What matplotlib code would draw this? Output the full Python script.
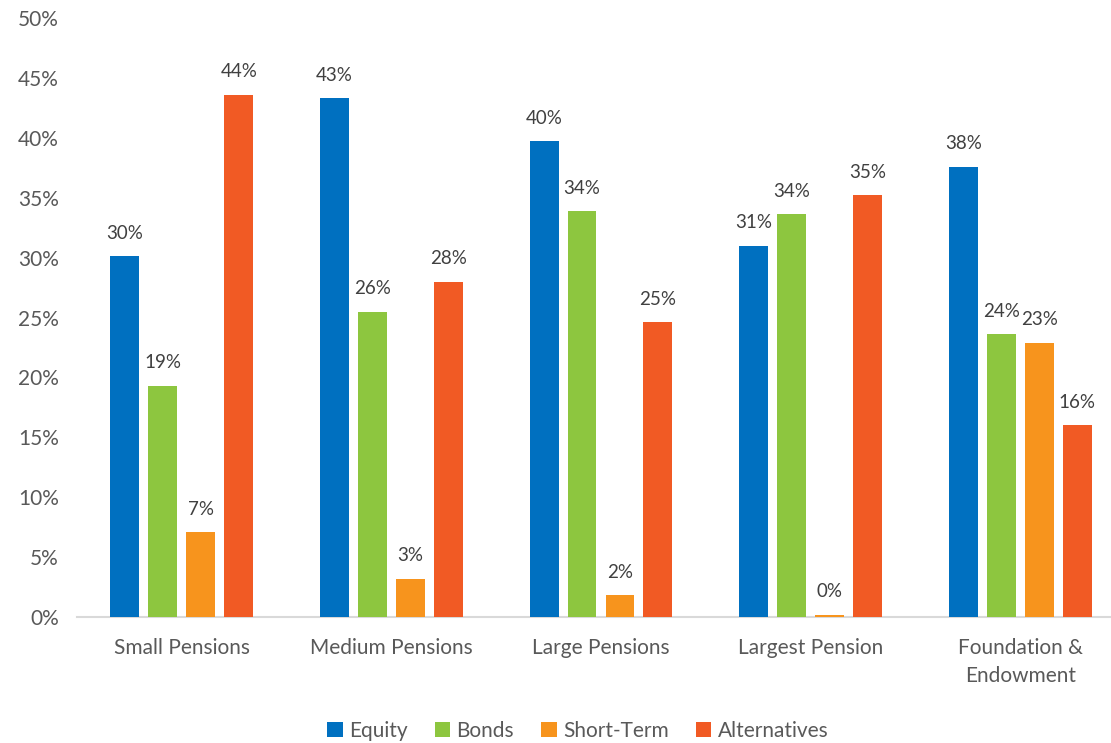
import numpy as np
import matplotlib.pyplot as plt

categories = ['Small Pensions', 'Medium Pensions', 'Large Pensions', 'Largest Pension', 'Foundation &\nEndowment']
equity = [30.1, 43.3, 39.7, 31.0, 37.6]
bonds = [19.3, 25.5, 33.9, 33.6, 23.6]
short_term = [7.1, 3.2, 1.8, 0.2, 22.9]
alternatives = [43.6, 28.0, 24.6, 35.2, 16.0]

series = [('Equity', equity, '#0070C0'),
          ('Bonds', bonds, '#8DC63F'),
          ('Short-Term', short_term, '#F7941D'),
          ('Alternatives', alternatives, '#F15A24')]

plt.rcParams['font.family'] = ['Lato', 'DejaVu Sans']
txt = '#595959'

fig = plt.figure(figsize=(11.11, 7.43), dpi=100)
ax = fig.add_axes([77 / 1111, 126 / 743, 1048 / 1111, 599 / 743])

x = np.arange(len(categories))
w = 0.138
step = 0.181
for i, (name, vals, col) in enumerate(series):
    pos = x + (i - 1.5) * step
    bars = ax.bar(pos, vals, width=w, color=col, label=name, zorder=3)
    for b, v in zip(bars, vals):
        ax.text(b.get_x() + b.get_width() / 2, v + 1.2, f'{v:.0f}%',
                ha='center', va='bottom', fontsize=13.5, color='#404040')

ax.set_xlim(-0.5, 4.5)
ax.set_ylim(0, 50)
ax.set_yticks(np.arange(0, 51, 5))
ax.set_yticklabels([f'{t}%' for t in range(0, 51, 5)])
ax.set_xticks(x)
ax.set_xticklabels(categories, linespacing=1.5)
ax.tick_params(axis='both', length=0, labelsize=15, colors=txt)
ax.tick_params(axis='x', pad=15)
ax.tick_params(axis='y', pad=13)
for s in ['top', 'right', 'left']:
    ax.spines[s].set_visible(False)
ax.spines['bottom'].set_color('#D9D9D9')
ax.spines['bottom'].set_linewidth(1.5)

leg = fig.legend(loc='lower center', bbox_to_anchor=(0.52, -0.022), ncol=4, frameon=False,
                 fontsize=15, handlelength=0.75, handleheight=0.75, handletextpad=0.3,
                 columnspacing=1.3)
for t in leg.get_texts():
    t.set_color(txt)

fig.savefig('out.png', dpi=100)
